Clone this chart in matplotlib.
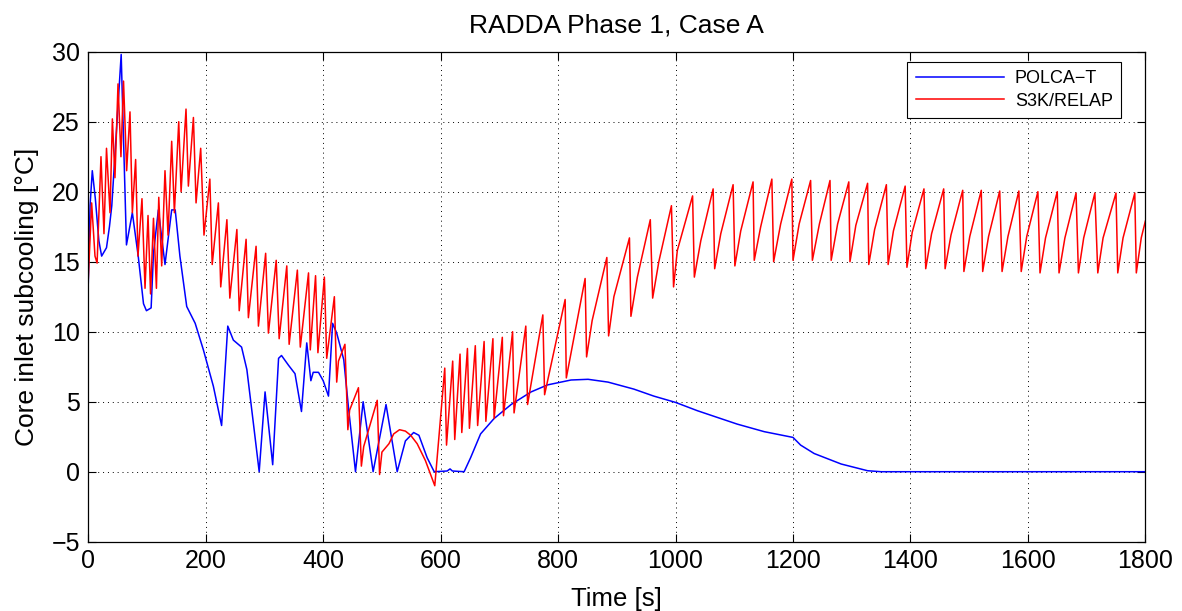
import matplotlib
matplotlib.use("Agg")
import matplotlib.pyplot as plt

plt.rcParams['font.family'] = ['Liberation Sans', 'DejaVu Sans']

# POLCA-T core inlet subcooling
polca_t = [0, 3, 6.8, 12, 18, 22.7, 31, 36, 40, 47, 56, 65, 75, 85, 94, 99, 107, 111,
           119.3, 130.6, 142, 148, 156, 167.6, 182, 196, 213, 227, 237.5, 247, 261,
           270, 281, 291, 301, 314, 324, 329, 341, 352, 363, 372, 379, 383, 392, 400,
           409, 416, 423, 435, 443, 455, 468, 485, 507, 526, 540, 554, 563, 577, 589,
           611, 616, 620, 640, 651, 668, 691, 720, 754, 782, 822, 851, 885, 929, 963,
           1000, 1037, 1066, 1105, 1151, 1200, 1213, 1236, 1282, 1327, 1350, 1800]
polca_v = [13.5, 19, 21.5, 19.5, 16.5, 15.4, 16, 17.5, 19, 23.7, 29.8, 16.2, 18.5, 15.4,
           12, 11.5, 11.7, 15.6, 18.7, 14.8, 18.7, 18.7, 15.4, 11.8, 10.6, 8.7, 6.1, 3.3,
           10.4, 9.4, 8.9, 7.3, 3.5, 0, 5.7, 0.5, 8.1, 8.3, 7.6, 7.0, 4.3, 9.2, 6.5, 7.1,
           7.1, 6.5, 5.4, 10.6, 9.9, 8.0, 4.6, 0, 5.0, 0, 4.8, 0, 2.2, 2.8, 2.6, 1.0, 0,
           0.05, 0.2, 0.05, 0, 1.0, 2.7, 3.8, 4.8, 5.7, 6.2, 6.55, 6.6, 6.4, 5.9, 5.4,
           4.95, 4.36, 3.95, 3.4, 2.86, 2.45, 1.9, 1.3, 0.55, 0.07, 0.0, 0.0]

# S3K/RELAP core inlet subcooling
s3k_t = [0, 5.7, 11.4, 15, 21.6, 26.7, 31, 37, 41, 45.4, 50.6, 55.6, 60, 65.3, 71, 75,
         80.6, 84.6, 91.4, 96.6, 101.7, 106, 111, 116, 120, 125, 130.6, 135.8, 142,
         146.6, 154, 158, 166.4, 170.4, 179, 183.5, 191.4, 197, 207, 211, 221.5, 225.5,
         236, 241, 253, 257, 268.7, 272.6, 285.7, 289.7, 302, 306.7, 320, 325, 338, 342,
         356, 361, 375, 378, 387, 391, 402, 406, 419, 423, 426, 437, 442, 445, 460, 465,
         469, 492, 496, 500, 512, 520, 530, 540, 549, 560, 574, 590, 607, 610, 620.5,
         624, 633, 636, 645.6, 649, 659, 663, 674, 677, 689, 691, 705, 707, 722.5, 725,
         745, 748, 774, 777, 812, 814, 846, 848.5, 858, 883, 886, 895, 921.5, 924, 935,
         957, 961, 971.5, 993, 996.6, 1003, 1029, 1032, 1043, 1064, 1066.6, 1077, 1098,
         1101, 1111, 1132, 1134, 1145, 1164, 1167, 1179, 1198, 1200, 1210.5, 1230, 1233,
         1245, 1263, 1265, 1276, 1295, 1297, 1307, 1327, 1329, 1339, 1359, 1362, 1371,
         1391, 1394, 1403, 1423, 1426, 1436, 1456.6, 1459, 1469, 1489, 1491, 1501,
         1520.6, 1523, 1533, 1552, 1556, 1566, 1584.6, 1588.6, 1598, 1617, 1620.6, 1630,
         1650, 1653, 1663, 1682, 1686, 1695, 1714, 1719, 1728, 1750, 1753, 1762, 1782,
         1784.6, 1793, 1800]
s3k_v = [13.8, 19.2, 15.4, 14.9, 22.5, 17, 23.1, 18.5, 25.2, 21, 27.7, 22.5, 27.9, 21.5,
         25.7, 18.5, 22.3, 15.4, 19.5, 13.1, 18.3, 12.7, 18.1, 13.1, 19.6, 14.7, 21.5,
         16.9, 23.6, 18.5, 25, 20, 25.9, 20.4, 25.3, 19.2, 23.1, 16.9, 20.9, 14.8, 19.2,
         13.2, 18.0, 12.4, 17.3, 11.5, 16.6, 11, 16.1, 10.4, 15.6, 9.9, 15.1, 9.5, 14.7,
         9.1, 14.4, 8.9, 14.2, 8.7, 14.0, 8.5, 13.9, 8.1, 12.5, 6.4, 7.9, 9.1, 3.0, 4.4,
         6.0, 0.4, 1.8, 5.1, -0.2, 1.4, 2.0, 2.7, 3.0, 2.9, 2.6, 2.0, 0.8, -1.0, 7.4,
         1.9, 7.9, 2.3, 8.4, 2.8, 8.8, 3.1, 9.0, 3.3, 9.3, 3.6, 9.5, 3.8, 9.6, 4.0, 10.0,
         4.2, 10.4, 4.8, 11.2, 5.5, 12.3, 6.7, 13.8, 8.2, 10.8, 15.3, 9.7, 12.5, 16.7,
         11.1, 13.9, 18.0, 12.4, 15.0, 19.0, 13.2, 15.8, 19.7, 13.9, 16.5, 20.2, 14.5,
         17, 20.5, 14.7, 17.2, 20.7, 15.1, 17.5, 20.9, 15.0, 17.7, 20.9, 15.1, 17.7,
         20.8, 15.1, 17.7, 20.8, 15.1, 17.7, 20.7, 15.0, 17.6, 20.6, 14.8, 17.3, 20.5,
         14.8, 17.2, 20.4, 14.6, 17.1, 20.2, 14.5, 17.0, 20.2, 14.5, 16.9, 20.1, 14.3,
         16.8, 20.1, 14.3, 16.8, 20.05, 14.3, 16.8, 20.05, 14.3, 16.8, 20.0, 14.2, 16.7,
         20.0, 14.2, 16.7, 19.9, 14.2, 16.7, 19.9, 14.2, 16.7, 19.9, 14.2, 16.7, 19.9,
         14.2, 16.7, 17.9]

fig = plt.figure(figsize=(11.82, 6.11), dpi=100)
ax = fig.add_axes([0.0747, 0.1134, 0.8943, 0.802])

ax.plot(polca_t, polca_v, color=(0, 0, 1), lw=1.1, label='POLCA\u2212T')
ax.plot(s3k_t, s3k_v, color=(1, 0, 0), lw=1.1, label='S3K/RELAP')

ax.set_xlim(0, 1800)
ax.set_ylim(-5, 30)
ax.set_xticks(range(0, 1801, 200))
ax.set_yticks(range(-5, 31, 5))
ax.tick_params(direction='in', top=True, right=True, labelsize=18, length=6, width=0.8)
ax.tick_params(axis='x', pad=5)
ax.tick_params(axis='y', pad=6)
ax.grid(True, linestyle=(0, (1, 4)), color='black', linewidth=0.7)
for s in ax.spines.values():
    s.set_linewidth(0.9)

ax.set_title('RADDA Phase 1, Case A', fontsize=19, pad=14)
ax.set_xlabel('Time [s]', fontsize=18.5, labelpad=10)
ax.set_ylabel('Core inlet subcooling [°C]', fontsize=19, labelpad=9)

leg = ax.legend(loc='upper right', bbox_to_anchor=(0.977, 0.979), borderaxespad=0,
                fontsize=13, handlelength=4.9, handletextpad=0.6, fancybox=False,
                framealpha=1, edgecolor='black', borderpad=0.45, labelspacing=0.3)
leg.get_frame().set_linewidth(0.8)

fig.savefig('out.png', dpi=100)
